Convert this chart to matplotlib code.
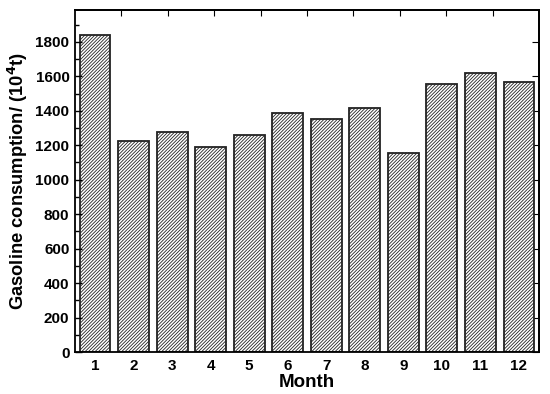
import numpy as np
import matplotlib.pyplot as plt
from matplotlib.ticker import MultipleLocator

plt.rcParams['font.family'] = ['Liberation Sans', 'DejaVu Sans']
plt.rcParams['font.weight'] = 'bold'
plt.rcParams['hatch.color'] = '#9a9a9a'
plt.rcParams['hatch.linewidth'] = 0.6

# Monthly gasoline consumption (10^4 t)
months = [1, 2, 3, 4, 5, 6, 7, 8, 9, 10, 11, 12]
consumption = [1841, 1225, 1275, 1190, 1258, 1386, 1351, 1418, 1157, 1558, 1618, 1569]

fig = plt.figure(figsize=(5.5, 3.94), dpi=100)
ax = fig.add_axes([75/550, 1 - 352/394, 464/550, 342/394])

ax.bar(months, consumption, width=0.8, color='white', edgecolor='#222222',
       linewidth=1.3, hatch='//////////')

ax.set_xlim(0.48, 12.52)
ax.set_ylim(0, 1985)
ax.set_xticks(months)
ax.yaxis.set_major_locator(MultipleLocator(200))
ax.yaxis.set_minor_locator(MultipleLocator(100))

ax.tick_params(axis='y', which='both', direction='in', labelsize=11, width=1, pad=4)
ax.tick_params(axis='y', which='major', length=5)
ax.tick_params(axis='y', which='minor', length=3)
ax.tick_params(axis='x', length=0, labelsize=11, pad=5)

# top and right ticks
sec_y = ax.secondary_yaxis('right')
sec_y.yaxis.set_major_locator(MultipleLocator(200))
sec_y.tick_params(direction='in', length=5, labelright=False)
top_ticks = np.linspace(0.48, 12.52, 11)[1:-1]
sec_x = ax.secondary_xaxis('top')
sec_x.set_xticks(top_ticks)
sec_x.tick_params(direction='in', length=4, labeltop=False)

for sp in list(ax.spines.values()) + [sec_y.spines['right'], sec_x.spines['top']]:
    sp.set_linewidth(1.3)

ax.set_xlabel('Month', fontsize=13.5, fontweight='bold', labelpad=1)
ax.set_ylabel('Gasoline consumption/ (10$^\\mathbf{4}$t)', fontsize=13.2,
              fontweight='bold', labelpad=4)

fig.savefig('out.png', dpi=100)
